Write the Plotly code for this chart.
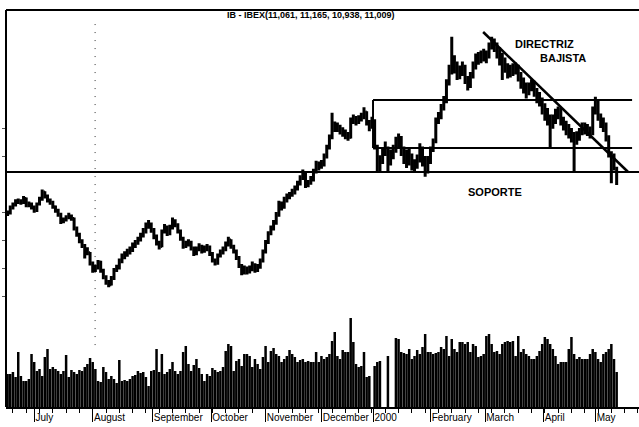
import plotly.graph_objects as go

# ---------------- data ----------------
title_ohlc = (11061, 11165, 10938, 11009)

close = [
    10587, 10650, 10690, 10725, 10740, 10720, 10770, 10690, 10700, 10660,
    10620, 10700, 10760, 10850, 10800, 10750, 10720, 10665, 10620, 10570,
    10480, 10500, 10530, 10545, 10520, 10400, 10320, 10240, 10180, 10140,
    10090, 9960, 9870, 9900, 9975, 9870, 9790, 9720, 9690, 9770,
    9880, 9900, 9990, 10040, 10070, 10100, 10120, 10180, 10210, 10250,
    10300, 10350, 10420, 10450, 10380, 10300, 10220, 10170, 10360, 10410,
    10330, 10400, 10490, 10440, 10360, 10270, 10170, 10200, 10215, 10150,
    10080, 10140, 10170, 10110, 10140, 10160, 10080, 10000, 9960, 10050,
    10090, 10130, 10190, 10250, 10170, 10110, 10030, 9930, 9840, 9900,
    9850, 9880, 9940, 9870, 9910, 9990, 10100, 10220, 10330, 10390,
    10460, 10560, 10700, 10660, 10750, 10790, 10810, 10850, 10890, 10950,
    11020, 11080, 10940, 10960, 11000, 11100, 11200, 11160, 11200, 11290,
    11400, 11530, 11640, 11680, 11650, 11620, 11590, 11560, 11530, 11740,
    11770, 11730, 11760, 11790, 11850, 11720, 11660, 11740, 11420, 11180,
    11250, 11330, 11400, 11220, 11300, 11380, 11460, 11530, 11370, 11330,
    11260, 11290, 11200, 11170, 11250, 11400, 11270, 11100, 11240, 11380,
    11480, 11740, 11790, 11890, 11980, 12200, 12370, 12430, 12460, 12310,
    12350, 12410, 12280, 12190, 12300, 12420, 12530, 12500, 12570, 12560,
    12540, 12670, 12740, 12680, 12610, 12550, 12490, 12420, 12340, 12360,
    12380, 12410, 12310, 12230, 12170, 12100, 12150, 12200, 12110, 12040,
    12000, 11900, 11840, 11790, 11700, 11750, 11820, 11870, 11750, 11710,
    11640, 11600, 11560, 11500, 11540, 11590, 11650, 11640, 11620, 11590,
    11870, 11990, 11790, 11730, 11690, 11540, 11340, 11160, 11280, 11009,
]

high = [
    10620, 10680, 10720, 10760, 10770, 10760, 10800, 10780, 10730, 10720,
    10680, 10720, 10790, 10880, 10860, 10820, 10770, 10740, 10680, 10640,
    10590, 10530, 10560, 10590, 10570, 10530, 10420, 10340, 10260, 10200,
    10160, 10100, 9980, 9940, 10000, 9990, 9890, 9810, 9750, 9800,
    9900, 9940, 10020, 10080, 10110, 10140, 10170, 10220, 10250, 10290,
    10340, 10400, 10470, 10500, 10470, 10400, 10320, 10240, 10380, 10450,
    10430, 10440, 10530, 10510, 10460, 10380, 10290, 10240, 10260, 10240,
    10170, 10170, 10210, 10190, 10180, 10200, 10180, 10100, 10020, 10080,
    10130, 10170, 10230, 10290, 10260, 10190, 10130, 10050, 9950, 9930,
    9920, 9930, 9980, 9960, 9950, 10020, 10130, 10250, 10360, 10430,
    10500, 10600, 10740, 10730, 10790, 10830, 10850, 10890, 10930, 10990,
    11060, 11130, 11090, 11000, 11050, 11140, 11240, 11230, 11250, 11330,
    11440, 11570, 11840, 11730, 11720, 11690, 11660, 11630, 11600, 11780,
    11820, 11800, 11810, 11840, 11910, 11860, 11750, 11790, 11760, 11440,
    11310, 11400, 11480, 11420, 11380, 11440, 11540, 11580, 11550, 11420,
    11380, 11400, 11330, 11260, 11320, 11460, 11420, 11300, 11300, 11420,
    11520, 11780, 11850, 11950, 12050, 12260, 12440, 12790, 12560, 12480,
    12430, 12480, 12440, 12300, 12350, 12480, 12580, 12600, 12620, 12640,
    12620, 12720, 12790, 12770, 12720, 12660, 12590, 12530, 12460, 12440,
    12460, 12470, 12440, 12350, 12280, 12220, 12220, 12260, 12240, 12150,
    12100, 12030, 11960, 11900, 11820, 11820, 11890, 11920, 11900, 11790,
    11740, 11700, 11650, 11600, 11610, 11650, 11720, 11720, 11700, 11670,
    11920, 12040, 12000, 11830, 11780, 11720, 11560, 11360, 11330, 11165,
]

low = [
    10550, 10570, 10630, 10670, 10700, 10690, 10700, 10660, 10660, 10630,
    10590, 10600, 10680, 10740, 10770, 10720, 10690, 10640, 10590, 10540,
    10450, 10460, 10480, 10510, 10490, 10370, 10290, 10210, 10150, 10020,
    10060, 9930, 9840, 9850, 9880, 9840, 9760, 9690, 9660, 9680,
    9750, 9850, 9880, 9960, 10010, 10040, 10070, 10100, 10150, 10190,
    10230, 10280, 10330, 10390, 10340, 10260, 10180, 10130, 10160, 10330,
    10300, 10310, 10380, 10410, 10330, 10240, 10140, 10150, 10170, 10120,
    10050, 10060, 10110, 10080, 10090, 10110, 10050, 9970, 9930, 9940,
    10030, 10070, 10110, 10170, 10140, 10080, 10000, 9900, 9810, 9820,
    9820, 9830, 9860, 9840, 9850, 9890, 9970, 10080, 10200, 10310,
    10370, 10440, 10540, 10620, 10640, 10720, 10760, 10790, 10820, 10870,
    10930, 11000, 10900, 10910, 10940, 10980, 11080, 11120, 11140, 11170,
    11270, 11380, 11510, 11600, 11600, 11570, 11540, 11510, 11490, 11520,
    11700, 11680, 11700, 11730, 11760, 11680, 11610, 11640, 11380, 11100,
    11110, 11200, 11300, 11100, 11180, 11260, 11340, 11400, 11300, 11200,
    11150, 11180, 11120, 11090, 11140, 11220, 11170, 11040, 11080, 11200,
    11350, 11460, 11700, 11760, 11870, 11960, 12180, 12320, 12330, 12250,
    12260, 12300, 12200, 12120, 12150, 12270, 12380, 12440, 12460, 12480,
    12460, 12520, 12630, 12600, 12520, 12430, 12250, 12340, 12270, 12280,
    12300, 12320, 12230, 12140, 12080, 12020, 12060, 12110, 12040, 11960,
    11920, 11820, 11740, 11680, 11410, 11640, 11700, 11760, 11680, 11620,
    11560, 11520, 11470, 11090, 11440, 11490, 11560, 11570, 11550, 11520,
    11560, 11820, 11740, 11650, 11600, 11480, 11280, 10960, 11120, 10938,
]

volume = [
    33, 33, 35, 30, 55, 31, 26, 26, 28, 53,
    45, 36, 38, 31, 50, 58, 38, 40, 38, 36,
    33, 36, 52, 30, 37, 35, 33, 37, 36, 40,
    43, 49, 45, 38, 26, 25, 40, 35, 28, 31,
    28, 24, 47, 26, 27, 26, 28, 31, 32, 36,
    34, 35, 30, 21, 36, 37, 58, 35, 53, 33,
    35, 38, 45, 36, 33, 36, 55, 61, 43, 36,
    42, 48, 39, 33, 26, 33, 31, 39, 37, 35,
    36, 40, 56, 63, 61, 36, 46, 48, 41, 53,
    53, 51, 40, 48, 43, 38, 50, 61, 45, 56,
    59, 53, 51, 45, 48, 51, 57, 53, 50, 45,
    47, 48, 45, 46, 45, 45, 55, 45, 51, 48,
    50, 53, 66, 75, 51, 48, 57, 55, 55, 89,
    65, 43, 40, 41, 55, 30, 31, 0, 41, 45,
    46, 0, 0, 51, 0, 0, 69, 68, 55, 54,
    53, 58, 48, 51, 57, 53, 60, 73, 55, 55,
    53, 54, 55, 60, 58, 71, 51, 68, 58, 55,
    65, 65, 63, 65, 55, 63, 61, 50, 51, 53,
    71, 73, 63, 55, 56, 53, 63, 65, 66, 65,
    66, 51, 71, 55, 58, 53, 51, 48, 48, 51,
    56, 63, 70, 68, 63, 58, 51, 43, 45, 45,
    45, 58, 70, 53, 48, 50, 48, 48, 48, 53,
    58, 55, 48, 45, 53, 55, 58, 63, 48, 35,
]

day = list(range(len(close)))
opens = [close[0]] + close[:-1]
opens[-1] = title_ohlc[0]

month_ticks = [10, 32, 54.5, 76.5, 97, 118, 137.5, 159, 179.5, 201.5, 221]
month_labels = ["July", "August", "September", "October", "November", "December",
                "2000", "February", "March", "April", "May"]

support_level = 11100
channel_levels = [12000, 11400]
channel_start, channel_end = 137.4, 234.8
trend_start = (178.8, 12850)
trend_end = (233.3, 11100)

FONT = "Liberation Sans, Arial, sans-serif"

fig = go.Figure()
fig.add_trace(go.Ohlc(
    x=day, open=opens, high=high, low=low, close=close,
    increasing=dict(line=dict(color="black", width=3)),
    decreasing=dict(line=dict(color="black", width=3)),
    tickwidth=0.45, xaxis="x", yaxis="y", showlegend=False, hoverinfo="skip"))
fig.add_trace(go.Bar(
    x=day, y=volume, marker=dict(color="black", line=dict(width=0)),
    xaxis="x", yaxis="y2", showlegend=False, hoverinfo="skip"))

shapes = [
    dict(type="line", xref="paper", yref="paper", x0=0, x1=0, y0=0, y1=1,
         line=dict(color="black", width=2)),
    dict(type="line", xref="paper", yref="paper", x0=0, x1=1, y0=1, y1=1,
         line=dict(color="black", width=2)),
    dict(type="line", xref="x", yref="y", x0=-0.6, x1=237.4, y0=support_level, y1=support_level,
         line=dict(color="black", width=2)),
    dict(type="line", xref="x", yref="y", x0=channel_start, x1=channel_start,
         y0=channel_levels[1], y1=channel_levels[0], line=dict(color="black", width=2)),
    dict(type="line", xref="x", yref="y", x0=trend_start[0], x1=trend_end[0],
         y0=trend_start[1], y1=trend_end[1], line=dict(color="black", width=2.5)),
    dict(type="line", xref="x", yref="paper", x0=32.9, x1=32.9, y0=0.156, y1=0.975,
         line=dict(color="#333", width=1, dash="1px,7px")),
]
for lv in channel_levels:
    shapes.append(dict(type="line", xref="x", yref="y", x0=channel_start, x1=channel_end,
                       y0=lv, y1=lv, line=dict(color="black", width=2)))

annotations = [
    dict(text="IB - IBEX(%s, %s, %s, %s)" % tuple(f"{v:,}" for v in title_ohlc),
         xref="paper", yref="paper", x=0.482, y=0.987, showarrow=False,
         xanchor="center", yanchor="middle",
         font=dict(family=FONT, size=9, color="black", weight="bold")),
    dict(text="DIRECTRIZ", xref="x", yref="y", x=201.7, y=12700, showarrow=False,
         font=dict(family=FONT, size=11, color="black", weight="bold")),
    dict(text="BAJISTA", xref="x", yref="y", x=208.8, y=12525, showarrow=False,
         font=dict(family=FONT, size=11, color="black", weight="bold")),
    dict(text="SOPORTE", xref="x", yref="y", x=183.3, y=10850, showarrow=False,
         font=dict(family=FONT, size=11, color="black", weight="bold")),
]

fig.update_layout(
    width=639, height=427,
    margin=dict(l=6, r=0, t=10, b=20, autoexpand=False),
    paper_bgcolor="white", plot_bgcolor="white",
    bargap=0.06, showlegend=False,
    shapes=shapes, annotations=annotations,
    xaxis=dict(range=[-0.6, 237.4], anchor="y2", tickmode="array",
               tickvals=month_ticks, ticktext=month_labels,
               ticks="outside", ticklen=13, tickwidth=1, tickcolor="black",
               ticklabelposition="outside right",
               tickfont=dict(family=FONT, size=10, color="black"),
               showline=True, linecolor="black", linewidth=1.5,
               showgrid=False, zeroline=False, automargin=False,
               rangeslider=dict(visible=False),
               minor=dict(ticks="outside", ticklen=4, tickcolor="black",
                          tickmode="linear", tick0=2, dtick=5, showgrid=False)),
    yaxis=dict(domain=[0.2519, 1], range=[9412.5, 13125], showgrid=False,
               zeroline=False, showticklabels=False, ticks="outside", ticklen=3,
               tickcolor="#555", automargin=False,
               tickvals=[9550, 9900, 10250, 10600, 11300, 11650]),
    yaxis2=dict(domain=[0, 0.2519], range=[0, 100], showgrid=False,
                zeroline=False, showticklabels=False, ticks="", automargin=False),
)

fig.write_html("out.html", config={"displayModeBar": False},
               post_script="document.body.style.margin='0';document.body.style.overflow='hidden';")
